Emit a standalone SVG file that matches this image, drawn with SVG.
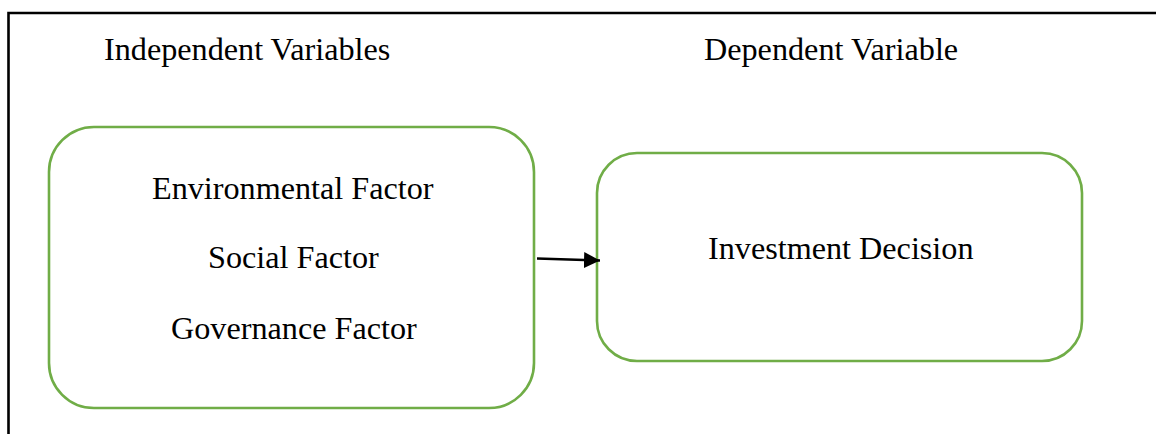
<svg xmlns="http://www.w3.org/2000/svg" width="1156" height="434" viewBox="0 0 1156 434">
<style>
.t{font-family:"Liberation Serif","Times New Roman",serif;font-size:32.2px;fill:#000}
.box{fill:#fff;stroke:#70AD47;stroke-width:2.6}
.frame{fill:none;stroke:#000;stroke-width:2.6}
</style>
<defs>
<marker id="ah" markerUnits="userSpaceOnUse" markerWidth="17" markerHeight="16" refX="16" refY="8" orient="auto">
<path d="M0,0 L16,8 L0,16 Z" fill="#000"/>
</marker>
</defs>
<rect width="1156" height="434" fill="#fff"/>
<g id="frame">
<path class="frame" d="M8.5,434 V13 H1156"/>
</g>
<g id="headers">
<text class="t" x="104" y="60">Independent Variables</text>
<text class="t" x="704" y="60">Dependent Variable</text>
</g>
<g id="independent">
<rect class="box" x="49" y="127" width="485" height="281" rx="45" ry="45"/>
<text class="t" x="152" y="199">Environmental Factor</text>
<text class="t" x="208" y="268">Social Factor</text>
<text class="t" x="171" y="339">Governance Factor</text>
</g>
<g id="dependent">
<rect class="box" x="597" y="153" width="485" height="208" rx="40" ry="40"/>
<text class="t" x="708" y="259">Investment Decision</text>
</g>
<g id="connectors">
<line x1="537" y1="258.5" x2="600" y2="260.5" stroke="#000" stroke-width="2.4" marker-end="url(#ah)"/>
</g>
</svg>
